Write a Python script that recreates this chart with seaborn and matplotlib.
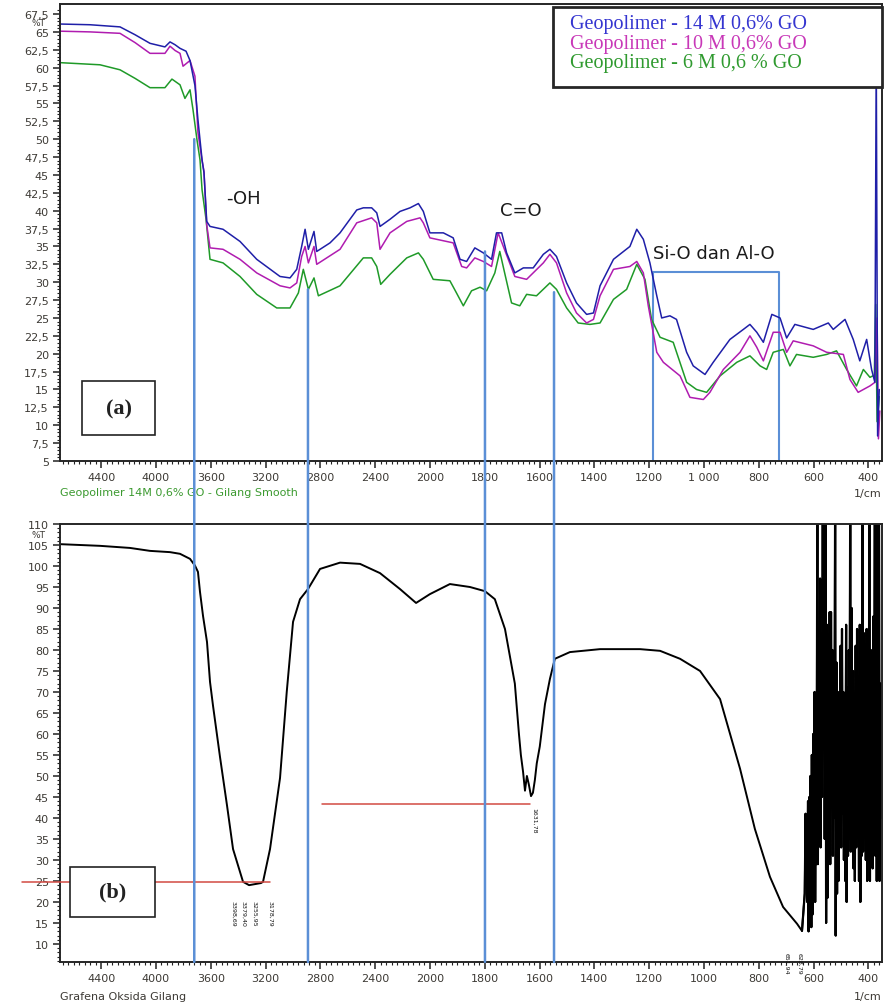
import numpy as np
import pandas as pd
import matplotlib
matplotlib.use("Agg")
import matplotlib.pyplot as plt
from matplotlib.patches import Rectangle, ConnectionPatch
from matplotlib.ticker import FixedLocator, FuncFormatter
import seaborn as sns

# ---- (a) geopolimer spectra, wavenumber (1/cm) vs %T ----
wn_14m = [4700, 4481, 4262, 4152, 4043, 3934, 3897, 3860, 3824, 3780, 3751, 3715, 3693, 3663, 3649,
          3629, 3605, 3510, 3386, 3264, 3094, 3021, 2972, 2936, 2911, 2887, 2846, 2826, 2729, 2656,
          2534, 2486, 2425, 2388, 2364, 2342, 2291, 2218, 2145, 2084, 2048, 2000, 1951, 1915, 1890,
          1866, 1836, 1805, 1775, 1757, 1738, 1720, 1690, 1659, 1623, 1586, 1562, 1538, 1501, 1465,
          1428, 1403, 1379, 1330, 1270, 1245, 1221, 1197, 1172, 1154, 1124, 1100, 1063, 1039, 996,
          966, 905, 856, 832, 807, 783, 752, 722, 698, 668, 601, 546, 528, 485, 455,
          431, 406, 388, 376, 371, 366, 360]
t_14m = [66.1, 66.0, 65.7, 64.6, 63.4, 62.9, 63.6, 63.2, 62.7, 62.3, 61.0, 57.5, 52.7, 47.1, 45.3,
         38.5, 37.8, 37.4, 35.7, 33.2, 30.8, 30.6, 31.8, 35.0, 37.4, 34.6, 37.1, 34.3, 35.5, 36.9,
         40.1, 40.4, 40.4, 39.7, 37.8, 38.1, 38.8, 39.9, 40.4, 41.0, 39.9, 36.9, 36.9, 36.2, 33.2,
         32.9, 34.8, 34.1, 33.2, 36.9, 36.9, 34.1, 31.3, 32.0, 32.0, 33.9, 34.6, 33.6, 29.9, 27.1,
         25.5, 25.7, 29.5, 33.2, 35.0, 37.4, 36.0, 32.7, 28.1, 25.0, 25.3, 24.8, 20.2, 18.3, 17.1,
         18.8, 22.0, 23.4, 24.1, 23.0, 21.6, 25.5, 25.0, 22.2, 24.1, 23.4, 24.3, 23.4, 24.8, 22.0,
         19.0, 22.0, 17.8, 16.0, 62.0, 8.5, 15.0]

wn_10m = [4700, 4481, 4262, 4152, 4043, 3934, 3897, 3860, 3824, 3802, 3751, 3715, 3693, 3663, 3649,
          3629, 3605, 3510, 3386, 3264, 3094, 3021, 2972, 2936, 2911, 2887, 2846, 2826, 2656, 2534,
          2425, 2388, 2364, 2291, 2169, 2072, 2048, 2000, 1915, 1884, 1866, 1836, 1805, 1775, 1751,
          1732, 1690, 1647, 1586, 1562, 1538, 1501, 1465, 1428, 1403, 1379, 1330, 1270, 1245, 1221,
          1203, 1172, 1148, 1087, 1051, 1002, 978, 929, 868, 832, 807, 783, 747, 722, 698,
          674, 601, 552, 491, 467, 437, 394, 376, 368, 363, 358]
t_10m = [65.1, 65.0, 64.8, 63.5, 62.0, 62.0, 63.0, 62.4, 62.0, 60.2, 61.0, 58.8, 50.9, 47.0, 45.5,
         38.0, 34.8, 34.6, 33.2, 31.3, 29.5, 29.2, 29.9, 33.6, 35.0, 32.7, 35.0, 32.5, 34.6, 38.3,
         39.0, 38.3, 34.6, 36.9, 38.5, 39.0, 38.3, 36.2, 35.5, 32.2, 32.0, 33.4, 32.9, 32.2, 36.9,
         35.0, 30.8, 30.4, 32.7, 33.9, 32.7, 28.5, 25.7, 24.3, 24.8, 28.1, 31.8, 32.2, 32.9, 31.3,
         26.7, 20.2, 18.8, 16.9, 13.9, 13.6, 14.6, 17.8, 20.2, 22.5, 20.9, 19.0, 23.0, 23.0, 20.2,
         21.8, 21.1, 20.2, 19.9, 16.4, 14.6, 15.5, 16.0, 25.0, 8.1, 12.0]

wn_6m = [4700, 4408, 4262, 4152, 4043, 3934, 3883, 3824, 3788, 3751, 3729, 3700, 3678, 3663, 3634,
         3605, 3510, 3386, 3264, 3118, 3021, 2960, 2924, 2887, 2846, 2814, 2656, 2486, 2425, 2388,
         2359, 2291, 2169, 2084, 2048, 1988, 1927, 1903, 1878, 1848, 1817, 1793, 1763, 1745, 1726,
         1702, 1672, 1647, 1611, 1562, 1538, 1501, 1459, 1416, 1379, 1330, 1282, 1245, 1215, 1191,
         1160, 1112, 1063, 1027, 990, 941, 880, 832, 795, 771, 747, 710, 686, 662, 601,
         552, 516, 479, 443, 418, 394, 378, 373, 368, 360]
t_6m = [60.7, 60.4, 59.7, 58.5, 57.2, 57.2, 58.4, 57.6, 55.7, 56.9, 54.1, 49.9, 47.1, 42.9, 38.8,
        33.2, 32.7, 30.8, 28.3, 26.4, 26.4, 28.5, 31.8, 29.0, 30.6, 28.1, 29.5, 33.4, 33.4, 32.2,
        29.7, 31.1, 33.4, 34.1, 33.2, 30.4, 30.2, 28.5, 26.7, 28.8, 29.3, 28.8, 31.3, 34.3, 31.1,
        27.1, 26.7, 28.3, 28.1, 29.9, 29.0, 26.4, 24.3, 24.1, 24.3, 27.6, 29.0, 32.5, 30.4, 24.8,
        22.3, 21.6, 16.0, 15.0, 14.6, 16.9, 18.8, 19.7, 18.3, 17.8, 20.2, 20.6, 18.3, 19.9, 19.5,
        19.9, 20.4, 17.8, 15.5, 17.8, 16.7, 17.0, 26.9, 10.5, 14.0]

# ---- (b) grafena oksida spectrum ----
wn_go = [4700, 4408, 4189, 4043, 3897, 3824, 3751, 3715, 3693, 3678, 3656, 3627, 3605, 3583, 3532,
         3481, 3437, 3364, 3320, 3284, 3233, 3218, 3167, 3094, 3045, 2999, 2948, 2890, 2802, 2656,
         2510, 2364, 2218, 2101, 2000, 1927, 1854, 1799, 1763, 1726, 1690, 1675, 1668, 1660, 1653,
         1646, 1639, 1631, 1624, 1617, 1610, 1599, 1580, 1562, 1544, 1489, 1379, 1233, 1160, 1087,
         1014, 941, 868, 814, 759, 711, 660, 642]
t_go = [105.2, 104.8, 104.3, 103.6, 103.3, 102.9, 101.7, 100.1, 98.6, 93.8, 88.1, 81.9, 72.4, 66.7, 54.5,
        43.0, 32.6, 24.8, 24.0, 24.2, 24.5, 24.8, 32.6, 49.5, 70.0, 86.7, 92.1, 94.5, 99.3, 100.8,
        100.5, 98.3, 94.5, 91.2, 93.3, 95.7, 95.0, 94.0, 92.1, 85.0, 72.0, 60.0, 55.0, 51.0, 46.5,
        50.0, 48.0, 45.2, 46.0, 49.0, 53.0, 57.0, 67.1, 73.1, 77.9, 79.5, 80.2, 80.2, 79.8, 77.9,
        75.0, 68.3, 51.7, 37.4, 26.0, 18.8, 14.8, 13.1]
# noisy fingerprint tail below ~640 1/cm
wn_go_tail = [632, 629, 627, 625, 623, 620, 618, 615, 613, 611, 608, 606, 604, 601, 599, 596, 594, 591,
              589, 586, 584, 581, 579, 576, 574, 571, 569, 566, 564, 561, 559, 556, 554, 551, 549, 546,
              544, 541, 539, 536, 534, 531, 529, 526, 524, 521, 519, 516, 514, 511, 509, 506, 504, 501,
              499, 496, 494, 491, 489, 486, 484, 481, 479, 476, 474, 471, 469, 466, 464, 461, 459, 456,
              454, 451, 449, 446, 444, 441, 439, 436, 434, 431, 429, 426, 424, 421, 419, 416, 414, 411,
              409, 406, 404, 401, 399, 396, 394, 391, 389, 386, 384, 381, 379, 376, 374, 371, 369, 366,
              364, 361, 359, 356, 354, 352]
t_go_tail = [22, 41, 25, 36, 20, 44, 13, 45, 18, 50, 14, 55, 17, 60, 25, 70, 20, 60,
             29, 118, 29, 81, 36, 97, 33, 75, 45, 118, 57, 90, 35, 118, 15, 86, 21, 78,
             38, 89, 29, 89, 49, 80, 31, 75, 40, 118, 12, 77, 22, 70, 25, 65, 38, 81,
             33, 85, 41, 70, 30, 63, 25, 86, 20, 71, 31, 80, 35, 118, 32, 90, 40, 75,
             28, 63, 25, 81, 33, 85, 41, 63, 25, 86, 20, 71, 31, 118, 32, 84, 40, 70,
             30, 85, 25, 62, 33, 118, 25, 80, 34, 70, 28, 88, 40, 118, 31, 86, 25, 118,
             35, 118, 25, 72, 40, 60]

series_names = ["14 M", "10 M", "6 M"]
legend_labels = ["Geopolimer - 14 M 0,6% GO", "Geopolimer - 10 M 0,6% GO", "Geopolimer - 6 M 0,6 % GO"]
line_colors = ["#1f1fa8", "#b01cb0", "#1f9a28"]
legend_colors = ["#3535d0", "#c838b8", "#2f9a2f"]

# marked bands
band_wn = [3720, 2890, 1799, 1547]      # blue guide lines through both panels
band_top = [50.0, 29.0, 34.3, 28.6]     # where each guide starts in panel (a)
sio_edges = [1186, 726]                 # Si-O / Al-O box
sio_top = 31.4
red_levels = [24.8, 43.3]
red_spans = [(4980, 3168), (2788, 1635)]
peak_labels = [(3437, "3398,69"), (3364, "3379,40"), (3284, "3255,95"), (3167, "3178,79"),
               (1620, "1631,78"), (700, "651,94"), (652, "628,79")]

x_major = [4400, 4000, 3600, 3200, 2800, 2400, 2000, 1800, 1600, 1400, 1200, 1000, 800, 600, 400]


def fwd(w):
    w = np.asarray(w, dtype=float)
    return np.where(w > 2000, 2000 + (w - 2000) / 2, w)


def inv(f):
    f = np.asarray(f, dtype=float)
    return np.where(f > 2000, 2000 + (f - 2000) * 2, f)


sns.set_theme(style="white")
plt.rcParams["font.family"] = ["DejaVu Sans"]

fig = plt.figure(figsize=(8.86, 10.03), dpi=100)
ax1 = fig.add_axes([60 / 886, 541 / 1003, 822 / 886, 457 / 1003])
ax2 = fig.add_axes([60 / 886, 40 / 1003, 822 / 886, 438 / 1003])

df_top = pd.concat([
    pd.DataFrame({"wn": wn_14m, "t": t_14m, "sample": series_names[0]}),
    pd.DataFrame({"wn": wn_10m, "t": t_10m, "sample": series_names[1]}),
    pd.DataFrame({"wn": wn_6m, "t": t_6m, "sample": series_names[2]}),
])
df_go = pd.DataFrame({"wn": wn_go + wn_go_tail, "t": t_go + t_go_tail})
df_tail = pd.DataFrame({"wn": wn_go[-1:] + wn_go_tail, "t": t_go[-1:] + t_go_tail})

sns.lineplot(data=df_top, x="wn", y="t", hue="sample", hue_order=series_names[::-1],
             palette=dict(zip(series_names, line_colors)), estimator=None, sort=False,
             legend=False, lw=1.1, ax=ax1)
sns.lineplot(data=df_go, x="wn", y="t", color="black", estimator=None, sort=False,
             lw=1.4, ax=ax2)
sns.lineplot(data=df_tail, x="wn", y="t", color="black", estimator=None, sort=False,
             lw=1.6, ax=ax2)

ylims = [(5, 68.9), (5.7, 110)]
tick_col = "#3d3a35"
for i, ax in enumerate([ax1, ax2]):
    ax.set_xscale("function", functions=(fwd, inv))
    ax.set_xlim(4700, 350)
    ax.set_ylim(*ylims[i])
    ax.xaxis.set_major_locator(FixedLocator(x_major))
    minor = list(range(360, 2000, 20)) + list(range(2000, 4700, 40))
    ax.xaxis.set_minor_locator(FixedLocator(minor))
    ax.set_xlabel("")
    ax.set_ylabel("")
    for s in ax.spines.values():
        s.set_color("#262626")
        s.set_linewidth(1.4)
    ax.tick_params(axis="both", which="major", direction="out", length=5, width=1.1,
                   labelsize=8, colors="#222222", labelcolor=tick_col, pad=3)
    ax.tick_params(axis="both", which="minor", direction="out", length=2.5, width=0.8,
                   colors="#222222")
    ax.tick_params(axis="x", which="both", bottom=True)
    ax.tick_params(axis="y", which="both", left=True)

ax1.xaxis.set_major_formatter(FuncFormatter(lambda v, p: "1 000" if round(v) == 1000 else f"{v:.0f}"))
ax2.xaxis.set_major_formatter(FuncFormatter(lambda v, p: f"{v:.0f}"))

ax1.yaxis.set_major_locator(FixedLocator(np.arange(5, 68, 2.5)))
ax1.yaxis.set_minor_locator(FixedLocator(np.arange(5, 68.5, 0.5)))
ax1.yaxis.set_major_formatter(FuncFormatter(lambda v, p: f"{v:g}".replace(".", ",")))
ax2.yaxis.set_major_locator(FixedLocator(np.arange(10, 111, 5)))
ax2.yaxis.set_minor_locator(FixedLocator(np.arange(6, 111, 1)))

# guide lines across both panels
for w, v in zip(band_wn, band_top):
    con = ConnectionPatch(xyA=(w, v), coordsA=ax1.transData, xyB=(w, ylims[1][0]),
                          coordsB=ax2.transData, color="#5b8fd6", lw=1.8, zorder=3)
    fig.add_artist(con)

ax1.plot([sio_edges[0], sio_edges[0], sio_edges[1], sio_edges[1]],
         [ylims[0][0], sio_top, sio_top, ylims[0][0]], color="#5b8fd6", lw=1.5, zorder=1)

for lvl, (a, b) in zip(red_levels, red_spans):
    ax2.plot([a, b], [lvl, lvl], color="#d24a43", lw=1.1, clip_on=False, zorder=4)

for w, lab in peak_labels:
    yv = 20.5 if w > 3000 else (42.5 if w > 1000 else 8.0)
    ax2.text(w, yv, lab, rotation=270, fontsize=4.5, ha="center", va="top", color="#111111")

# band annotations
ax1.text(3364, 41.8, "-OH", fontsize=13, ha="center", va="center", color="#1a1a1a")
ax1.text(1668, 40.1, "C=O", fontsize=13, ha="center", va="center", color="#1a1a1a")
ax1.text(963, 34.1, "Si-O dan Al-O", fontsize=13, ha="center", va="center", color="#1a1a1a")

# legend box
ax1.add_patch(Rectangle((0.6, 0.818), 0.4, 0.175, transform=ax1.transAxes, fc="white",
                        ec="#262626", lw=2, zorder=6, clip_on=False))
for k, (lab, col) in enumerate(zip(legend_labels, legend_colors)):
    ax1.text(0.62, 0.957 - k * 0.043, lab, transform=ax1.transAxes, fontsize=14.5,
             family="Liberation Serif", color=col, va="center", ha="left", zorder=7)

# panel tags
ax1.add_patch(Rectangle((0.027, 0.057), 0.089, 0.118, transform=ax1.transAxes, fc="white",
                        ec="#222222", lw=1.2, zorder=6))
ax1.text(0.0715, 0.116, "(a)", transform=ax1.transAxes, fontsize=16, fontweight="bold",
         family="Liberation Serif", ha="center", va="center", zorder=7, color="#222222")
ax2.add_patch(Rectangle((0.012, 0.103), 0.104, 0.114, transform=ax2.transAxes, fc="white",
                        ec="#222222", lw=1.2, zorder=6))
ax2.text(0.064, 0.16, "(b)", transform=ax2.transAxes, fontsize=16, fontweight="bold",
         family="Liberation Serif", ha="center", va="center", zorder=7, color="#222222")

# axis captions
ax1.text(-0.026, 66.25, "%T", transform=ax1.get_yaxis_transform(), fontsize=6.5, ha="center",
         va="center", color=tick_col)
ax2.text(-0.026, 107.5, "%T", transform=ax2.get_yaxis_transform(), fontsize=6.5, ha="center",
         va="center", color=tick_col)
ax1.text(0.0, -0.068, "Geopolimer 14M 0,6% GO - Gilang Smooth", transform=ax1.transAxes,
         fontsize=8, color="#3c9a30", ha="left", va="center")
ax1.text(1.0, -0.07, "1/cm", transform=ax1.transAxes, fontsize=8, color=tick_col,
         ha="right", va="center")
ax2.text(0.0, -0.078, "Grafena Oksida Gilang", transform=ax2.transAxes, fontsize=8,
         color=tick_col, ha="left", va="center")
ax2.text(1.0, -0.078, "1/cm", transform=ax2.transAxes, fontsize=8, color=tick_col,
         ha="right", va="center")

fig.savefig("out.png", dpi=100)
